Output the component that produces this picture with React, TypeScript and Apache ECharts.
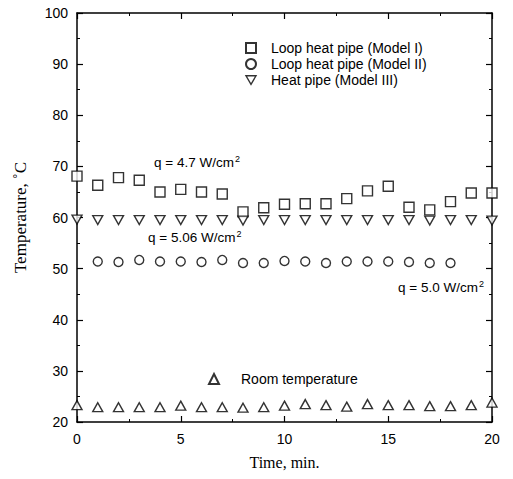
import React, { useEffect, useRef } from "react";
import * as echarts from "echarts";

const time = [0, 1, 2, 3, 4, 5, 6, 7, 8, 9, 10, 11, 12, 13, 14, 15, 16, 17, 18, 19, 20];
const model1 = [68.1, 66.3, 67.8, 67.3, 65.0, 65.5, 65.0, 64.6, 61.1, 61.9, 62.6, 62.7, 62.7, 63.7, 65.2, 66.1, 62.0, 61.5, 63.1, 64.8, 64.8];
const model2Time = [1, 2, 3, 4, 5, 6, 7, 8, 9, 10, 11, 12, 13, 14, 15, 16, 17, 18];
const model2 = [51.4, 51.3, 51.7, 51.4, 51.4, 51.3, 51.7, 51.1, 51.1, 51.5, 51.4, 51.1, 51.4, 51.4, 51.4, 51.3, 51.1, 51.1];
const model3 = [59.6, 59.5, 59.5, 59.5, 59.5, 59.5, 59.5, 59.5, 59.4, 59.5, 59.5, 59.5, 59.5, 59.5, 59.5, 59.5, 59.5, 59.4, 59.5, 59.5, 59.4];
const room = [23.3, 22.9, 22.9, 22.9, 22.9, 23.2, 22.9, 22.9, 22.8, 22.9, 23.2, 23.5, 23.3, 23.0, 23.5, 23.3, 23.3, 23.1, 23.1, 23.3, 23.8];

const seriesNames = ["Loop heat pipe (Model I)", "Loop heat pipe (Model II)", "Heat pipe (Model III)", "Room temperature"];
const annotations = ["q = 4.7 W/cm", "q = 5.06 W/cm", "q = 5.0 W/cm"];

const SANS = "'Liberation Sans', Arial, sans-serif";
const SERIF = "'Liberation Serif', 'Times New Roman', serif";

const pairs = (xs: number[], ys: number[]) => xs.map((x, i) => [x, ys[i]]);

export default function App() {
  const ref = useRef<HTMLDivElement>(null);
  useEffect(() => {
    document.body.style.margin = "0";
    if (!ref.current) return;
    const chart = echarts.init(ref.current, undefined, { renderer: "svg" });
    const hollow = { color: "#fff", borderColor: "#000", borderWidth: 1.4 };
    const axisLine = { show: true, onZero: false, lineStyle: { color: "#000", width: 1.5 } };
    const tick = { show: true, inside: true, length: 6, lineStyle: { color: "#000", width: 1.2 } };
    const minor = { show: true, splitNumber: 2, length: 3, lineStyle: { color: "#000", width: 1 } };
    const rich = {
      a: { fontFamily: SANS, fontSize: 13.5, color: "#000" },
      s: { fontFamily: SANS, fontSize: 9, color: "#000", padding: [0, 0, 8, 1] },
    };
    const note = (i: number) => `{a|${annotations[i]}}{s|2}`;
    chart.setOption({
      animation: false,
      backgroundColor: "#fff",
      grid: { left: 77, right: 21, top: 13, bottom: 57 },
      xAxis: [
        {
          type: "value", min: 0, max: 20, interval: 5, position: "bottom",
          name: "Time, min.", nameLocation: "middle", nameGap: 32,
          nameTextStyle: { fontFamily: SERIF, fontSize: 16, color: "#000" },
          axisLine, axisTick: tick, minorTick: minor, splitLine: { show: false },
          axisLabel: { fontFamily: SANS, fontSize: 14, color: "#000", margin: 10 },
        },
        {
          type: "value", min: 0, max: 20, interval: 5, position: "top",
          axisLine, axisTick: tick, minorTick: minor, splitLine: { show: false },
          axisLabel: { show: false },
        },
      ],
      yAxis: [
        {
          type: "value", min: 20, max: 100, interval: 10, position: "left",
          name: "Temperature, \u02DAC", nameLocation: "middle", nameGap: 48,
          nameTextStyle: { fontFamily: SERIF, fontSize: 17, color: "#000" },
          axisLine, axisTick: tick, minorTick: minor, splitLine: { show: false },
          axisLabel: { fontFamily: SANS, fontSize: 14, color: "#000", margin: 9 },
        },
        {
          type: "value", min: 20, max: 100, interval: 10, position: "right",
          axisLine, axisTick: tick, minorTick: minor, splitLine: { show: false },
          axisLabel: { show: false },
        },
      ],
      legend: [
        {
          data: [
            { name: seriesNames[0] },
            { name: seriesNames[1] },
            { name: seriesNames[2], icon: "path://M0,0L10,0L5,8.5Z", itemStyle: hollow },
          ],
          orient: "vertical", left: 240, top: 36,
          itemWidth: 10, itemHeight: 10, itemGap: 2,
          textStyle: { fontFamily: SANS, fontSize: 14, color: "#000", padding: [0, 0, 0, 10] },
        },
        {
          data: [seriesNames[3]], orient: "vertical", left: 203, top: 367,
          itemWidth: 10, itemHeight: 10,
          textStyle: { fontFamily: SANS, fontSize: 14, color: "#000", padding: [0, 0, 0, 17] },
        },
      ],
      series: [
        { name: seriesNames[0], type: "scatter", symbol: "rect", symbolSize: 10, itemStyle: hollow, data: pairs(time, model1) },
        { name: seriesNames[1], type: "scatter", symbol: "circle", symbolSize: 9, itemStyle: hollow, data: pairs(model2Time, model2) },
        { name: seriesNames[2], type: "scatter", symbol: "triangle", symbolRotate: 180, symbolSize: [10, 9], itemStyle: hollow, data: pairs(time, model3) },
        { name: seriesNames[3], type: "scatter", symbol: "triangle", symbolSize: [10, 9], itemStyle: hollow, data: pairs(time, room) },
      ],
      graphic: [
        { type: "text", left: 154, top: 154, style: { text: note(0), rich } },
        { type: "text", left: 148, top: 229, style: { text: note(1), rich } },
        { type: "text", left: 398, top: 279, style: { text: note(2), rich } },
      ],
    });
    return () => chart.dispose();
  }, []);
  return <div ref={ref} style={{ width: 513, height: 479 }} />;
}
